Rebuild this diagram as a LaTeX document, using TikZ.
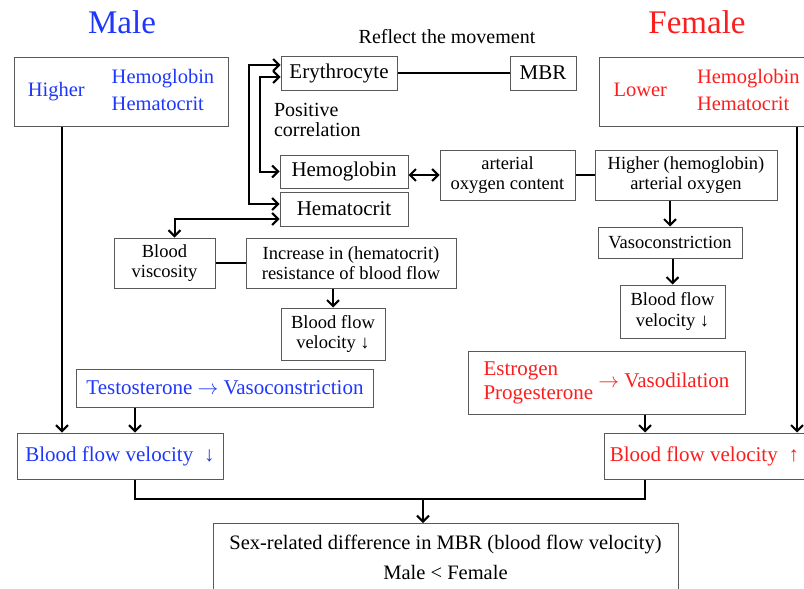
\documentclass[tikz,border=0pt]{standalone}
\usepackage{fontspec}
\setmainfont{Liberation Serif}
\usetikzlibrary{arrows.meta}
\definecolor{maleblue}{RGB}{30,55,250}
\definecolor{femalered}{RGB}{250,30,30}
\begin{document}
\begin{tikzpicture}
  [x=1pt,y=-1pt,line width=2pt,>={Straight Barb[length=6pt,width=12pt]},
   every node/.style={inner sep=0pt,font=\fontsize{21}{23}\selectfont},
   box/.style={draw=black!65,line width=1pt,align=center},
   small/.style={font=\fontsize{18.5}{20.5}\selectfont},
   title/.style={font=\fontsize{33}{36}\selectfont}]
  \useasboundingbox (0,0) rectangle (804,589);
  \clip (0,0) rectangle (804,589);

  \node (maletitle) at (122,22) [title,text=maleblue] {Male};
  \node (femaletitle) at (697,22) [title,text=femalered] {Female};
  \node (reflect) at (447,37) [font=\fontsize{20}{22}\selectfont] {Reflect the movement};

  \node (male) at (121,91.5) [box,text=maleblue,minimum width=214,minimum height=69,font=\fontsize{20.5}{27}\selectfont]
    {Higher\hspace{27pt}\begin{tabular}{@{}l@{}}Hemoglobin\\Hematocrit\end{tabular}};
  \node (female) at (599,91.5) [box,anchor=west,text=femalered,minimum width=214,minimum height=69,font=\fontsize{20.5}{27}\selectfont]
    {Lower\hspace{30pt}\begin{tabular}{@{}l@{}}Hemoglobin\\Hematocrit\end{tabular}};

  \node (ery) at (339,73) [box,minimum width=116,minimum height=34] {Erythrocyte};
  \node (mbr) at (543,73) [box,minimum width=66,minimum height=34] {MBR};
  \node (poscorr) at (273,120) [anchor=west,align=left,font=\fontsize{20}{20}\selectfont] {Positive\\correlation};
  \node (hgb) at (344,171.5) [box,minimum width=128,minimum height=33] {Hemoglobin};
  \node (hct) at (344,209) [box,minimum width=128,minimum height=34] {Hematocrit};
  \node (aoc) at (507.5,175) [box,small,minimum width=135,minimum height=50] {arterial\\oxygen content};
  \node (hao) at (686,175) [box,small,minimum width=182,minimum height=50] {Higher (hemoglobin)\\arterial oxygen};
  \node (visc) at (164.5,263) [box,small,minimum width=101,minimum height=50] {Blood\\viscosity};
  \node (incr) at (351,263) [box,small,minimum width=210,minimum height=50] {Increase in (hematocrit)\\resistance of blood flow};
  \node (bfvc) at (333,334) [box,small,minimum width=104,minimum height=52] {Blood flow\\velocity ↓};
  \node (vasoc) at (670,242.5) [box,small,minimum width=144,minimum height=31] {Vasoconstriction};
  \node (bfvr) at (672.5,311.5) [box,small,minimum width=105,minimum height=53] {Blood flow\\velocity ↓};

  \node (testo) at (225,388) [box,text=maleblue,minimum width=297,minimum height=38] {Testosterone $\rightarrow$ Vasoconstriction};
  \node (estro) at (606.5,382.5) [box,text=femalered,minimum width=277,minimum height=63,font=\fontsize{21}{24}\selectfont]
    {\begin{tabular}{@{}l@{}}Estrogen\\Progesterone\end{tabular} $\rightarrow$ Vasodilation};
  \node (bfvm) at (120,456) [box,text=maleblue,minimum width=206,minimum height=46] {Blood flow velocity\hspace{11pt}↓};
  \node (bfvf) at (604,456) [box,anchor=west,text=femalered,minimum width=200,minimum height=46] {Blood flow velocity\hspace{11pt}↑};
  \node (sexdiff) at (445.5,523) [box,anchor=north,minimum width=465,minimum height=90] {};
  \node (sexdifftext) at ([yshift=-11pt]sexdiff.north) [anchor=north,align=center,font=\fontsize{20.5}{22}\selectfont]
    {Sex-related difference in MBR (blood flow velocity)\\[8pt]Male < Female};

  \coordinate (ob) at (249,140);
  \coordinate (ib) at (260,120);
  \coordinate (ml) at (62,300);
  \coordinate (fl) at (797,300);
  \coordinate (jl) at (135,499);
  \coordinate (jr) at (645,499);
  \coordinate (jm) at (423,499);

  \foreach \from/\to in {ery/mbr, aoc/hao, visc/incr}
  \draw (\from) -- (\to);

  \foreach \from/\to in {incr/bfvc, hao/vasoc, vasoc/bfvr}
  \draw[->] (\from.south -| \to.north) -- (\to.north);

  \draw[<->] ([yshift=8pt]ery.west) -| (ob) |- ([yshift=5pt]hct.west);
  \draw[<->] ([yshift=-4pt]ery.west) -| (ib) |- (hgb.west);
  \draw[<->] ([yshift=-10pt]hct.west) -| ([xshift=10pt]visc.north);
  \draw[<->] (hgb.east |- aoc.west) -- (aoc.west);

  \draw[->] (male.south -| ml) -- (ml |- bfvm.north);
  \draw[->] (female.south -| fl) -- (fl |- bfvf.north);
  \draw[->] (testo.south -| jl) -- (jl |- bfvm.north);
  \draw[->] (estro.south -| jr) -- (jr |- bfvf.north);
  \draw (bfvm.south -| jl) -- (jl) -- (jr) -- (bfvf.south -| jr);
  \draw[->] (jm) -- (jm |- sexdiff.north);
%  \draw[dashed] (bfvc) -- (bfvr);
\end{tikzpicture}
\end{document}
